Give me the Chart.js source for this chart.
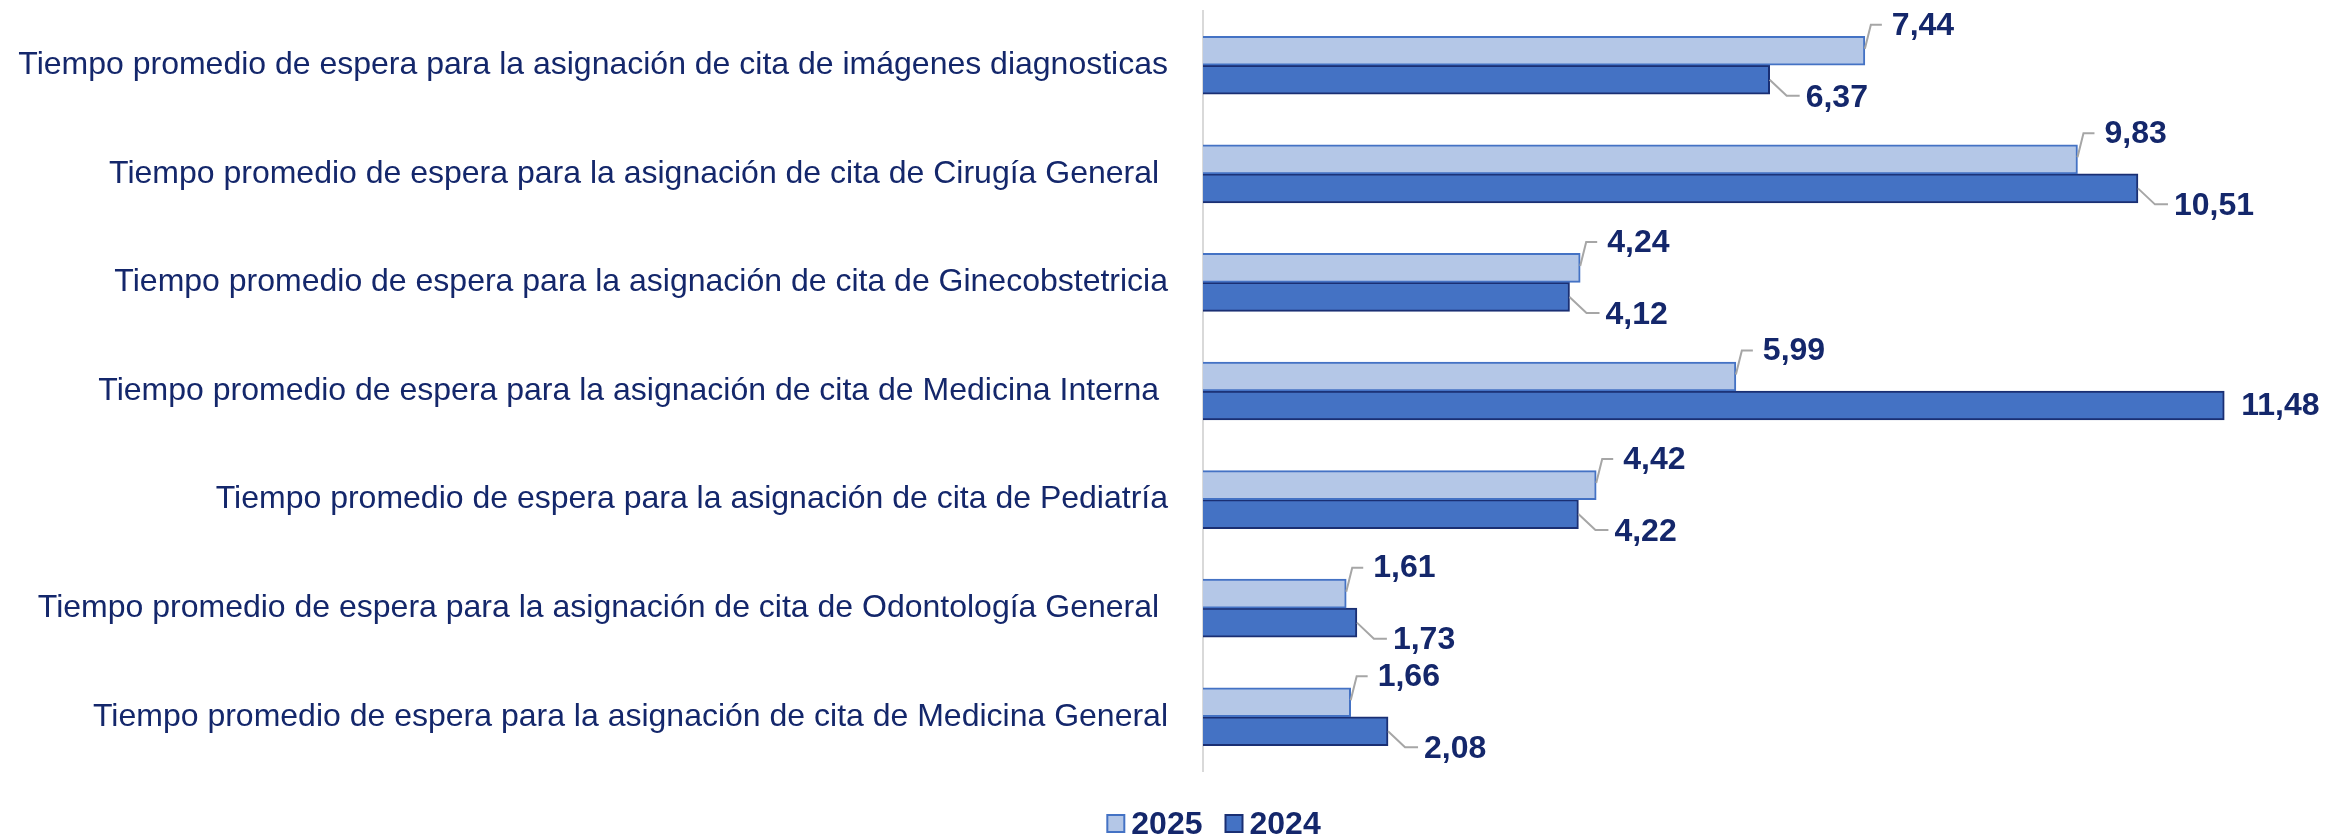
<!DOCTYPE html>
<html>
<head>
<meta charset="utf-8">
<script src="https://cdn.jsdelivr.net/npm/chart.js@4/dist/chart.umd.min.js"></script>
<style>
  html, body { margin: 0; padding: 0; background: #fff; }
  #wrap { width: 2343px; height: 834px; position: relative; }
</style>
</head>
<body>
<div id="wrap"><canvas id="chart"></canvas></div>
<script>
const categories = [
  'Tiempo promedio de espera para la asignación de cita de imágenes diagnosticas',
  'Tiempo promedio de espera para la asignación de cita de Cirugía General ',
  'Tiempo promedio de espera para la asignación de cita de Ginecobstetricia',
  'Tiempo promedio de espera para la asignación de cita de Medicina Interna ',
  'Tiempo promedio de espera para la asignación de cita de Pediatría',
  'Tiempo promedio de espera para la asignación de cita de Odontología General ',
  'Tiempo promedio de espera para la asignación de cita de Medicina General'
];
const values2025 = [7.44, 9.83, 4.24, 5.99, 4.42, 1.61, 1.66];
const values2024 = [6.37, 10.51, 4.12, 11.48, 4.22, 1.73, 2.08];
const seriesNames = ['2025', '2024'];

const navy = '#14276B';
const fontFamily = '"Liberation Sans", Arial, sans-serif';

// labels with little leader lines, like the excel ones
const valueLabels = {
  id: 'valueLabels',
  afterDatasetsDraw(chart) {
    const ctx = chart.ctx;
    ctx.save();
    ctx.font = 'bold 32px ' + fontFamily;
    ctx.fillStyle = navy;
    ctx.textBaseline = 'middle';
    ctx.textAlign = 'left';
    ctx.strokeStyle = '#A6A6A6';
    ctx.lineWidth = 2;
    chart.data.datasets.forEach((ds, di) => {
      chart.getDatasetMeta(di).data.forEach((bar, i) => {
        const txt = ds.data[i].toFixed(2).replace('.', ',');
        const xe = bar.x, y = bar.y;
        const w = ctx.measureText(txt).width;
        if (xe + 36 + w > chart.chartArea.right) {
          // no room, excel puts it right next to the bar
          ctx.fillText(txt, xe + 17, y + 1);
          return;
        }
        ctx.beginPath();
        if (di === 0) {
          ctx.moveTo(xe, y - 2);
          ctx.lineTo(xe + 6, y - 26);
          ctx.lineTo(xe + 17, y - 26);
          ctx.stroke();
          ctx.fillText(txt, xe + 27, y - 25);
        } else {
          ctx.moveTo(xe, y);
          ctx.lineTo(xe + 17, y + 16);
          ctx.lineTo(xe + 30, y + 16);
          ctx.stroke();
          ctx.fillText(txt, xe + 36, y + 18);
        }
      });
    });
    ctx.restore();
  }
};

// legend drawn by hand so the spacing matches
const legendBoxes = {
  id: 'legendBoxes',
  afterDraw(chart) {
    const ctx = chart.ctx;
    ctx.save();
    ctx.font = 'bold 32px ' + fontFamily;
    ctx.textBaseline = 'alphabetic';
    const items = chart.data.datasets.map(ds => ({
      text: ds.label, fill: ds.backgroundColor, stroke: ds.borderColor,
      w: ctx.measureText(ds.label).width
    }));
    const box = 17, gap = 7, between = 23;
    let total = -between;
    items.forEach(it => { total += box + gap + it.w + between; });
    let x = chart.chartArea.left + 11 - total / 2;
    const yBase = chart.height;
    items.forEach(it => {
      ctx.fillStyle = it.fill;
      ctx.fillRect(x, yBase - 19, box, box);
      ctx.strokeStyle = it.stroke;
      ctx.lineWidth = 2;
      ctx.strokeRect(x, yBase - 19, box, box);
      ctx.fillStyle = navy;
      ctx.fillText(it.text, x + box + gap, yBase);
      x += box + gap + it.w + between;
    });
    ctx.restore();
  }
};

new Chart(document.getElementById('chart'), {
  type: 'bar',
  data: {
    labels: categories,
    datasets: [
      {
        label: seriesNames[0],
        data: values2025,
        backgroundColor: '#B4C7E7',
        borderColor: '#4472C4',
        borderWidth: 2,
        barThickness: 29
      },
      {
        label: seriesNames[1],
        data: values2024,
        backgroundColor: '#4472C4',
        borderColor: '#1A2F73',
        borderWidth: 2,
        barThickness: 29
      }
    ]
  },
  options: {
    indexAxis: 'y',
    responsive: true,
    maintainAspectRatio: false,
    animation: false,
    layout: { padding: { top: 11, right: 28, left: 0, bottom: 63 } },
    scales: {
      x: {
        display: false,
        min: 0,
        max: 12.5
      },
      y: {
        grid: { display: false, drawTicks: false },
        border: { display: true, color: '#D9D9D9', width: 2 },
        ticks: {
          color: navy,
          padding: 35,
          font: { family: fontFamily, size: 32 }
        },
        afterFit: s => {
          s.width = 1203;
          s.paddingTop = 0;
          s.paddingBottom = 0;
        }
      }
    },
    plugins: {
      legend: { display: false },
      tooltip: { enabled: false }
    }
  },
  plugins: [valueLabels, legendBoxes]
});
</script>
</body>
</html>
